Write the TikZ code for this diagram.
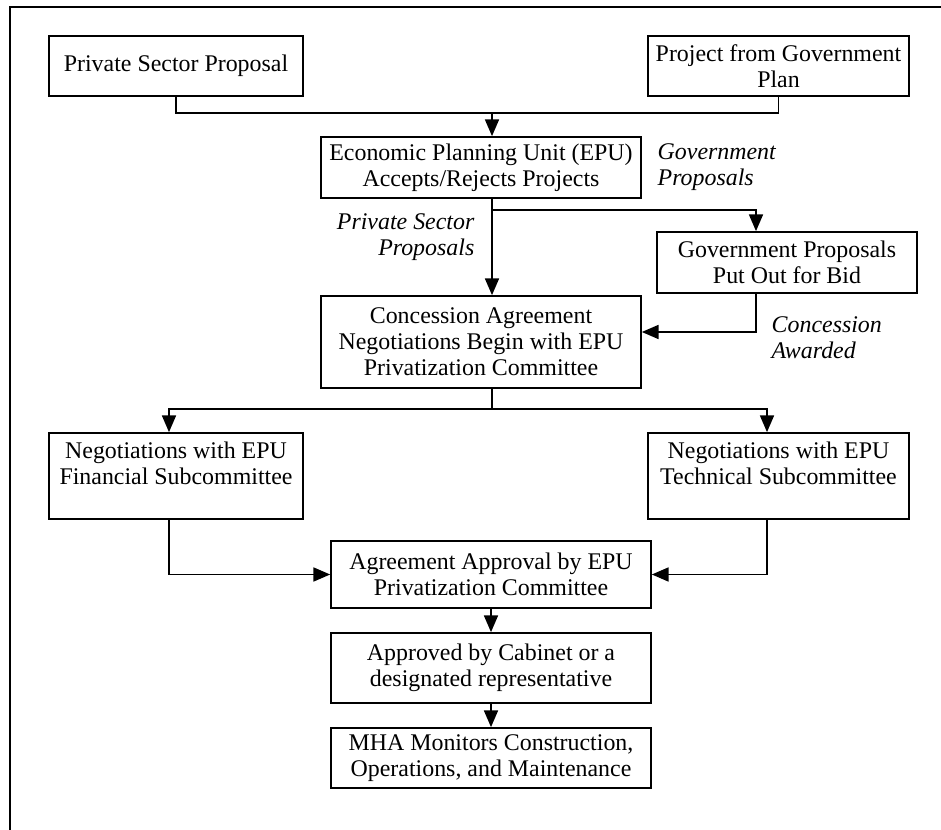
\documentclass[tikz,border=0pt]{standalone}
\usepackage{fontspec}
\setmainfont{Liberation Serif}
\usetikzlibrary{arrows.meta}
\begin{document}
\begin{tikzpicture}[x=0.02cm, y=-0.02cm, line width=0.8pt, >={Triangle[length=9.5pt,width=8pt]},
box/.style={draw, line width=1pt, align=center, inner sep=0pt, font=\fontsize{13.6}{14.8}\selectfont},
note/.style={inner sep=0pt, font=\fontsize{13.6}{14.8}\selectfont\itshape}]
\useasboundingbox (0,0) rectangle (941,830);
\draw[line width=1.2pt] (10,835) -- (10,7) -- (946,7);%frame
\begin{scope}
\node[box, minimum width=5.08cm, minimum height=1.2cm] (psp) at (176,66) {Private Sector Proposal};
\node[box, minimum width=5.22cm, minimum height=1.2cm] (pgp) at (778.5,66) {Project from Government\\Plan};
\node[box, minimum width=6.4cm, minimum height=1.22cm] (epu) at (481,167.5) {Economic Planning Unit (EPU)\\Accepts/Rejects Projects};
\node[box, minimum width=5.2cm, minimum height=1.22cm] (bid) at (787,262.5) {Government Proposals\\Put Out for Bid};
\node[box, minimum width=6.4cm, minimum height=1.84cm] (conc) at (481,342) {Concession Agreement\\Negotiations Begin with EPU\\Privatization Committee};
\node[box, minimum width=5.08cm, minimum height=1.72cm] (fin) at (176,476) {Negotiations with EPU\\Financial Subcommittee\\\mbox{}};
\node[box, minimum width=5.22cm, minimum height=1.72cm] (tec) at (778.5,476) {Negotiations with EPU\\Technical Subcommittee\\\mbox{}};
\node[box, minimum width=6.4cm, minimum height=1.34cm] (agr) at (491,574.5) {Agreement Approval by EPU\\Privatization Committee};
\node[box, minimum width=6.4cm, minimum height=1.4cm] (appr) at (491,668) {Approved by Cabinet or a\\designated representative};
\node[box, minimum width=6.4cm, minimum height=1.2cm] (mha) at (491,758) {MHA Monitors Construction,\\Operations, and Maintenance};
%labels
\node[note, anchor=north west, align=left] (govlbl) at (657,143) {Government\\Proposals};
\node[note, anchor=north east, align=right] (pvtlbl) at (475,213) {Private Sector\\Proposals};
\node[note, anchor=north west, align=left] (awdlbl) at (771,316) {Concession\\Awarded};
\end{scope}
\begin{scope}
\coordinate (join) at (492,113);
\coordinate (split) at (492,210);
\coordinate (fork) at (492,409);
\coordinate (bidcol) at (756,0);
\coordinate (awdrow) at (0,332);
\coordinate (lcol) at (169,0);
\coordinate (rcol) at (767,0);
\draw (psp.south) |- (join) -| (pgp.south);
\draw[->] (join) -- (epu.north -| join);
\draw (epu.south -| split) -- (split);
\draw[->] (split) -| (bid.north -| bidcol);
\draw[->] (split) -- (conc.north -| split);
\draw[->] (bid.south -| bidcol) |- (conc.east |- awdrow);
\draw (conc.south -| fork) -- (fork);
\draw[->] (fork) -| (fin.north -| lcol);
\draw[->] (fork) -| (tec.north -| rcol);
\draw[->] (fin.south -| lcol) |- (agr.west);
\draw[->] (tec.south -| rcol) |- (agr.east);
\draw[->] (agr) -- (appr);
\draw[->] (appr) -- (mha);
%\draw (v) -- (v);
\end{scope}
\end{tikzpicture}
\end{document}
